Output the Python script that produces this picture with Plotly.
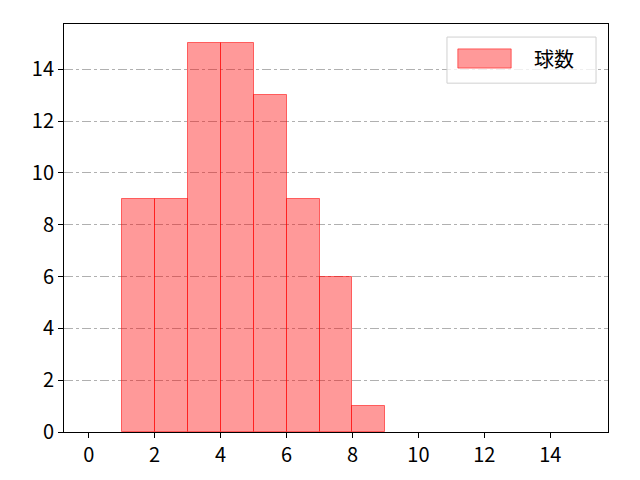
import plotly.graph_objects as go

# histogram bins (left edges) and counts
bin_left = [1, 2, 3, 4, 5, 6, 7, 8]
counts = [9, 9, 15, 15, 13, 9, 6, 1]
x_ticks = [0, 2, 4, 6, 8, 10, 12, 14]
y_ticks = [0, 2, 4, 6, 8, 10, 12, 14]
series_name = '球数'

fill = 'rgba(255,0,0,0.4)'
edge = 'rgba(255,0,0,0.55)'

fig = go.Figure()
fig.add_trace(go.Bar(
    x=[b + 0.5 for b in bin_left],
    y=counts,
    width=1,
    name=series_name,
    marker=dict(color=fill, line=dict(color=edge, width=1)),
    showlegend=False,
))

axis_common = dict(
    showline=True, linecolor='black', linewidth=1, mirror=True,
    ticks='outside', ticklen=5, tickcolor='black',
    tickfont=dict(family='Noto Sans CJK JP', size=20, color='black'),
    zeroline=False,
)

fig.update_xaxes(range=[-0.75, 15.75], tickvals=x_ticks, showgrid=False, **axis_common)
fig.update_yaxes(range=[0, 15.75], tickvals=y_ticks, showgrid=True,
                 gridcolor='#b0b0b0', gridwidth=1, griddash='dashdot', **axis_common)

# matplotlib-like legend box drawn by hand
fig.add_shape(type='rect', xref='paper', yref='paper',
              x0=0.704, x1=0.978, y0=0.855, y1=0.968,
              fillcolor='rgba(255,255,255,0.8)', line=dict(color='#d0d0d0', width=1))
fig.add_shape(type='rect', xref='paper', yref='paper',
              x0=0.724, x1=0.822, y0=0.892, y1=0.939,
              fillcolor=fill, line=dict(color=edge, width=1))
fig.add_annotation(xref='paper', yref='paper', x=0.86, y=0.915,
                   xanchor='left', yanchor='middle', showarrow=False,
                   text=series_name,
                   font=dict(family='Noto Sans CJK JP', size=20, color='black'))

fig.update_layout(
    width=640, height=480,
    margin=dict(l=56, r=40, t=16, b=56),
    plot_bgcolor='white', paper_bgcolor='white',
    bargap=0,
)

fig.write_html("out.html")
